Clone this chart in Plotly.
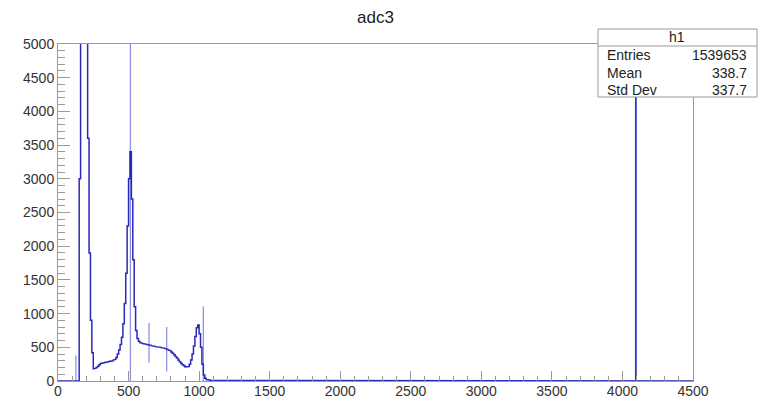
import plotly.graph_objects as go

# ---------------- data ----------------
fine_width = 10
fine_counts = [
    0, 0, 0, 0, 0, 0, 0, 0, 0, 0, 0, 0, 0, 0, 0,        # 0-140
    3000,                                              # 150
    9000, 9000, 9000, 9000, 9000,                      # 160-200 (off scale)
    3600, 1900, 900, 420, 180,                         # 210-250
    190, 200, 220, 240, 260, 265, 270, 275, 280, 285, 290, 295, 300, 310,  # 260-390
    320, 350, 400, 460, 540, 650, 850, 1150, 1600, 2300,                  # 400-490
    3000, 3400, 2700, 1800, 1100, 750, 630, 590, 570, 560,                # 500-590
    555, 550, 545, 540, 535, 530, 525, 520, 515, 510,                     # 600-690
    505, 500, 500, 495, 490, 485, 480, 470, 460, 450,                     # 700-790
    430, 410, 390, 365, 340, 310, 285, 260, 240, 225,                     # 800-890
    210, 205, 215, 250, 310, 400, 520, 660, 790, 830,                     # 900-990
    700, 500, 250, 90, 40, 22, 15, 12, 10, 8,                             # 1000-1090
    7, 6, 6, 5, 5, 5, 4, 4, 4, 3,                                         # 1100-1190
]
tail_edges = [1200, 1400, 1600, 1800, 2000, 4500]
tail_counts = [3, 4, 5, 3, 0]

spike_adc = [127, 513, 645, 770, 1030]
spike_low = [0, 0, 270, 140, 0]
spike_high = [380, 9000, 860, 800, 1110]

overflow_adc = [4095]
overflow_high = [9000]

x_ticks = [0, 500, 1000, 1500, 2000, 2500, 3000, 3500, 4000, 4500]
y_ticks = [0, 500, 1000, 1500, 2000, 2500, 3000, 3500, 4000, 4500, 5000]

stat_names = ["Entries", "Mean", "Std Dev"]
stat_values = ["1539653", "338.7", "337.7"]
hist_name = "h1"
title = "adc3"

# ---------------- build step histogram ----------------
edges = [i * fine_width for i in range(len(fine_counts))] + tail_edges
counts = fine_counts + tail_counts
hx = []
hy = []
for i, c in enumerate(counts):
    hx += [edges[i], edges[i + 1]]
    hy += [c, c]

def segs(xs, lo, hi):
    sx, sy = [], []
    for a, b, c in zip(xs, lo, hi):
        sx += [a, a, None]
        sy += [b, c, None]
    return sx, sy

fig = go.Figure()
lx, ly = segs(spike_adc, spike_low, spike_high)
fig.add_trace(go.Scatter(x=lx, y=ly, mode="lines",
                         line=dict(color="rgba(110,110,220,0.75)", width=1.3),
                         hoverinfo="skip", showlegend=False))
fig.add_trace(go.Scatter(x=hx, y=hy, mode="lines",
                         line=dict(color="rgb(40,40,185)", width=1.5),
                         showlegend=False))
ox, oy = segs(overflow_adc, [0] * len(overflow_adc), overflow_high)
fig.add_trace(go.Scatter(x=ox, y=oy, mode="lines",
                         line=dict(color="rgb(50,50,200)", width=1.8),
                         hoverinfo="skip", showlegend=False))

font_family = "Liberation Sans, Arial, sans-serif"
axis_col = "#9a9a9a"

fig.update_layout(
    width=779, height=399,
    margin=dict(l=58, r=86, t=44, b=18, autoexpand=False),
    paper_bgcolor="white", plot_bgcolor="white",
    font=dict(family=font_family, size=14, color="#333"),
    xaxis=dict(range=[0, 4500], tickvals=x_ticks, ticks="inside", ticklen=10,
               tickcolor=axis_col, tickwidth=1, showgrid=False, zeroline=False,
               showline=True, linecolor=axis_col, linewidth=1, mirror=True,
               automargin=False, ticklabelstandoff=-3,
               minor=dict(dtick=100, ticks="inside", ticklen=5, tickcolor=axis_col),
               tickfont=dict(size=14, color="#333")),
    yaxis=dict(range=[0, 5000], tickvals=y_ticks, ticks="inside", ticklen=12,
               tickcolor=axis_col, tickwidth=1, showgrid=False, zeroline=False,
               showline=True, linecolor=axis_col, linewidth=1, mirror=True,
               automargin=False,
               minor=dict(dtick=100, ticks="inside", ticklen=7, tickcolor=axis_col),
               tickfont=dict(size=14, color="#333")),
)

# title
fig.add_annotation(text=title, xref="paper", yref="paper",
                   x=(375 - 58) / 635, y=(381 - 17) / 337,
                   showarrow=False, xanchor="center", yanchor="middle",
                   font=dict(size=17, color="#222"))

# stats box
def px(xp):
    return (xp - 58) / 635

def py(yp):
    return (381 - yp) / 337

fig.add_shape(type="rect", xref="paper", yref="paper",
              x0=px(598), x1=px(757), y0=py(97), y1=py(29),
              line=dict(color=axis_col, width=1), fillcolor="white", layer="above")
fig.add_shape(type="line", xref="paper", yref="paper",
              x0=px(598), x1=px(757), y0=py(46), y1=py(46),
              line=dict(color=axis_col, width=1), layer="above")
fig.add_annotation(text=hist_name, xref="paper", yref="paper",
                   x=px(677), y=py(37.5), showarrow=False,
                   xanchor="center", yanchor="middle",
                   font=dict(size=14, color="#222"))
row_y = [55, 72.5, 90]
for name, val, yy in zip(stat_names, stat_values, row_y):
    fig.add_annotation(text=name, xref="paper", yref="paper",
                       x=px(605), y=py(yy), showarrow=False,
                       xanchor="left", yanchor="middle",
                       font=dict(size=14, color="#222"))
    fig.add_annotation(text=val, xref="paper", yref="paper",
                       x=px(749), y=py(yy), showarrow=False,
                       xanchor="right", yanchor="middle",
                       font=dict(size=14, color="#222"))

fig.write_html("out.html")
